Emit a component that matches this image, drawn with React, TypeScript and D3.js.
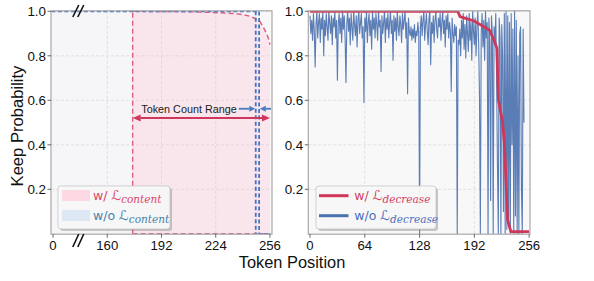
import React from 'react';
import * as d3 from 'd3';

const W = 594;
const H = 281;

const yTicks = [0.2, 0.4, 0.6, 0.8, 1.0];
const leftTickVals = [128, 160, 192, 224, 256];
const leftTickLabels = ['0', '160', '192', '224', '256'];
const rightTicks = [0, 64, 128, 192, 256];

// w/ L_content (pink region)
const withContentX = [175, 200, 215, 225, 235, 240, 244, 248, 250, 252, 254, 255, 256];
const withContentY = [1.0, 0.999, 0.997, 0.994, 0.99, 0.985, 0.978, 0.965, 0.955, 0.93, 0.9, 0.88, 0.85];

// w/o L_content (blue region)
const woContentX = [127, 249.6, 249.6, 256.6];
const woContentY = [1.0, 1.0, 0.0, 0.0];
const woContentDropX = 247.6;

// arrows (token positions)
const rangeArrow = { from: 175, to: 256, y: 0.52 };
const blueArrowL = { from: 237.6, to: 247.3, y: 0.562 };
const blueArrowR = { from: 256.6, to: 250.0, y: 0.562 };

// w/ L_decrease (red line)
const decreaseX = [0, 172.6, 175.3, 192, 209.5, 214, 218.4, 220.1, 225, 227, 229, 230.8, 234.7, 256];
const decreaseY = [1.0, 1.0, 0.976, 0.956, 0.916, 0.879, 0.834, 0.6, 0.5, 0.41, 0.24, 0.063, 0.01, 0.01];

// w/o L_decrease (blue noisy line), token 0..250
const noDecrease = [
  0.98, 0.90, 0.96, 0.87, 0.99, 0.91, 0.75, 0.94, 1.00, 0.88,
  0.95, 0.99, 0.86, 0.97, 0.92, 1.00, 0.80, 0.96, 0.89, 0.99,
  0.93, 0.87, 1.00, 0.95, 0.90, 0.98, 0.85, 0.97, 0.93, 1.00,
  0.88, 0.96, 0.69, 0.94, 0.99, 0.90, 0.97, 0.86, 1.00, 0.92,
  0.98, 0.88, 0.68, 0.95, 1.00, 0.91, 0.97, 0.85, 0.99, 0.93,
  0.87, 1.00, 0.94, 0.89, 0.98, 0.84, 0.96, 1.00, 0.90, 0.95,
  0.99, 0.88, 0.93, 0.59, 0.97, 0.91, 1.00, 0.86, 0.95, 0.99,
  0.89, 0.96, 0.83, 1.00, 0.92, 0.97, 0.88, 0.99, 0.94, 0.87,
  1.00, 0.93, 0.96, 0.73, 0.98, 0.90, 0.95, 1.00, 0.86, 0.97,
  0.92, 0.99, 0.88, 0.95, 1.00, 0.90, 0.96, 0.78, 0.98, 0.91,
  0.97, 0.87, 1.00, 0.93, 0.89, 0.98, 0.94, 0.86, 0.99, 0.92,
  0.96, 1.00, 0.88, 0.95, 0.63, 0.97, 0.91, 0.89, 0.93, 0.87,
  0.92, 0.88, 0.94, 0.86, 0.91, 0.89, 0.95, 0.90, 0.00, 0.93,
  0.98, 0.89, 0.96, 1.00, 0.87, 0.94, 0.99, 0.91, 0.85, 0.97,
  1.00, 0.76, 0.95, 0.90, 0.98, 0.86, 0.96, 1.00, 0.92, 0.88,
  0.97, 0.93, 0.99, 0.87, 0.95, 1.00, 0.90, 0.96, 0.84, 0.98,
  0.92, 0.99, 0.88, 0.95, 0.91, 0.64, 0.97, 0.90, 0.86, 0.94,
  0.89, 0.93, 0.00, 0.87, 0.85, 0.92, 0.80, 0.96, 0.88, 0.99,
  0.83, 0.94, 0.79, 0.98, 0.90, 0.82, 0.99, 0.87, 0.95, 0.78,
  1.00, 0.91, 0.85, 0.97, 0.80, 0.93, 1.00, 0.86, 0.62, 0.00,
  0.90, 0.99, 0.84, 0.96, 0.78, 1.00, 0.88, 0.95, 0.00, 0.97,
  0.86, 0.15, 0.98, 0.90, 0.00, 0.93, 0.85, 0.99, 0.70, 0.30,
  0.00, 0.97, 0.88, 0.00, 0.94, 0.80, 0.10, 0.99, 0.00, 1.00,
  0.02, 0.98, 0.05, 0.95, 0.00, 0.99, 0.40, 0.92, 0.00, 1.00,
  0.08, 0.96, 0.00, 0.80, 0.00, 0.90, 0.93, 0.20, 0.00, 0.92, 0.50,
];

const SANS = '"Liberation Sans", Arial, Helvetica, sans-serif';
const LSANS = '"DejaVu Sans", "Liberation Sans", sans-serif';
const SERIF = '"DejaVu Serif", "Liberation Serif", serif';

const TOP = 10.8;
const BOT = 234.2;
const yS = d3.scaleLinear().domain([0, 1]).range([233.8, 11.3]);
const xL = d3.scaleLinear().domain([126.8, 257.2]).range([51, 272]);
const xR = d3.scaleLinear().domain([-2, 257]).range([308.3, 530]);

const PINK_LINE = '#e2607f';
const PINK_DARK = '#d1365c';
const BLUE_DASH = '#4472c4';
const BLUE_LINE = '#4c72b0';
const RED = '#cf3658';

function Arrow({ x1, x2, y, color, w = 2, head = 8, hw = 3.5 }: any) {
  const dir = Math.sign(x2 - x1);
  const bx = x2 - dir * head;
  return (
    <g>
      <line x1={x1} x2={bx} y1={y} y2={y} stroke={color} strokeWidth={w} />
      <polygon points={`${x2},${y} ${bx},${y - hw} ${bx},${y + hw}`} fill={color} />
    </g>
  );
}

function LegendLabel({ x, y, pre, sub, color }: any) {
  return (
    <text x={x} y={y} fill={color} fontFamily={LSANS} fontSize={12.5}>
      <tspan>{pre}</tspan>
      <tspan fontFamily={LSANS} fontSize={13.5}>{'\u2112'}</tspan>
      <tspan fontFamily={SERIF} fontStyle="italic" fontSize={10.5} dy={3}>{sub}</tspan>
    </text>
  );
}

export default function App() {
  const line = d3.line<[number, number]>();

  const pinkCurve = line(withContentX.map((x, i) => [xL(x), yS(withContentY[i])]))!;
  const pinkFill =
    `M${xL(withContentX[0])},${yS(0)} ` +
    withContentX.map((x, i) => `L${xL(x)},${yS(withContentY[i])}`).join(' ') +
    ` L${xL(withContentX[withContentX.length - 1])},${yS(0)} Z`;
  const blueOutline = line(woContentX.map((x, i) => [xL(x), yS(woContentY[i])]))!;
  const blueFill = `M${xL(woContentX[0])},${yS(0)} L${xL(woContentX[0])},${yS(1)} L${xL(woContentX[1])},${yS(1)} L${xL(woContentX[1])},${yS(0)} Z`;

  const redPath = line(decreaseX.map((x, i) => [xR(x), yS(decreaseY[i])]))!;
  const bluePath = line(noDecrease.map((v, i) => [xR(i), yS(v)]))!;

  const gridStyle = { stroke: '#dadada', strokeWidth: 0.8, strokeDasharray: '3,2' };
  const frame = '#a8a8a8';

  const breakX = xL(142);

  return (
    <svg width={W} height={H} style={{ position: 'absolute', left: 0, top: 0, background: '#fff' }}>
      <defs>
        <clipPath id="clipL"><rect x={xL.range()[0]} y={TOP} width={xL.range()[1] - xL.range()[0]} height={BOT - TOP} /></clipPath>
        <clipPath id="clipR"><rect x={xR.range()[0]} y={TOP} width={xR.range()[1] - xR.range()[0]} height={BOT - TOP} /></clipPath>
      </defs>

      {/* ---------- LEFT PANEL ---------- */}
      <rect x={51} y={TOP} width={221} height={BOT - TOP} fill="#f8f8f9" />
      {yTicks.map((t) => (
        <line key={'gly' + t} x1={51} x2={272} y1={yS(t)} y2={yS(t)} {...gridStyle} />
      ))}
      {leftTickVals.slice(1, 4).map((t) => (
        <line key={'glx' + t} x1={xL(t)} x2={xL(t)} y1={TOP} y2={BOT} {...gridStyle} />
      ))}
      <g clipPath="url(#clipL)">
        <path d={blueFill} fill="#d6e4f4" opacity={0.06} />
        <path d={pinkFill} fill="#ffc0d0" opacity={0.3} />
        <path d={pinkCurve} fill="none" stroke={PINK_LINE} strokeWidth={1.5} strokeDasharray="5,3" />
        <line x1={xL(withContentX[0])} x2={xL(withContentX[0])} y1={yS(0)} y2={yS(1)} stroke={PINK_LINE} strokeWidth={1.5} strokeDasharray="5,3" />
        <line x1={xL(withContentX[0])} x2={xL(withContentX[withContentX.length - 1])} y1={yS(0)} y2={yS(0)} stroke={PINK_LINE} strokeWidth={1.5} strokeDasharray="5,3" />
        <path d={blueOutline} fill="none" stroke={BLUE_DASH} strokeWidth={1.8} strokeDasharray="4,2.5" />
        <line x1={xL(woContentDropX)} x2={xL(woContentDropX)} y1={yS(1)} y2={yS(0)} stroke={BLUE_DASH} strokeWidth={1.8} strokeDasharray="4,2.5" />
      </g>

      {/* Token Count Range annotation */}
      <text x={189} y={113} textAnchor="middle" fontFamily={SANS} fontSize={10.8} fill="#222">Token Count Range</text>
      <Arrow x1={xL(rangeArrow.to) - 8} x2={xL(rangeArrow.from)} y={yS(rangeArrow.y)} color={PINK_DARK} />
      <Arrow x1={xL(rangeArrow.from) + 8} x2={xL(rangeArrow.to)} y={yS(rangeArrow.y)} color={PINK_DARK} />
      <Arrow x1={xL(blueArrowL.from)} x2={xL(blueArrowL.to)} y={yS(blueArrowL.y)} color="#4a7cc0" w={1.8} head={6} hw={3} />
      <Arrow x1={xL(blueArrowR.from)} x2={xL(blueArrowR.to)} y={yS(blueArrowR.y)} color="#4a7cc0" w={1.8} head={6} hw={3} />

      {/* legend left */}
      <rect x={60} y={188} width={112} height={43} rx={3} fill="#888" opacity={0.45} />
      <rect x={58} y={186} width={112} height={43} rx={3} fill="#fafafa" fillOpacity={0.94} stroke="#c4c4c4" strokeWidth={0.8} />
      <rect x={62} y={190} width={28} height={11} fill="#fdd9e3" />
      <rect x={62} y={210} width={28} height={11} fill="#dde8f4" />
      <LegendLabel x={93} y={200} pre="w/ " sub="content" color="#d9456b" />
      <LegendLabel x={93} y={220} pre="w/o " sub="content" color="#4283ab" />

      <rect x={51} y={TOP} width={221} height={BOT - TOP} fill="none" stroke={frame} strokeWidth={1.2} />

      {/* break marks */}
      {[0, 5].map((o) => (
        <g key={'bk' + o}>
          <line x1={breakX - 4 + o} x2={breakX + 2 + o} y1={17} y2={5} stroke="#111" strokeWidth={1.6} />
          <line x1={breakX - 4 + o} x2={breakX + 2 + o} y1={247} y2={234} stroke="#111" strokeWidth={1.6} />
        </g>
      ))}

      {/* left axes ticks */}
      {yTicks.map((t) => (
        <g key={'lyt' + t}>
          <line x1={47.5} x2={51} y1={yS(t)} y2={yS(t)} stroke="#444" strokeWidth={0.8} />
          <text x={46} y={yS(t) + 4.8} textAnchor="end" fontFamily={SANS} fontSize={13.4} fill="#111">{t.toFixed(1)}</text>
        </g>
      ))}
      {leftTickVals.map((t, i) => (
        <g key={'lxt' + t}>
          <line x1={xL(t)} x2={xL(t)} y1={BOT} y2={BOT + 3.5} stroke="#444" strokeWidth={0.8} />
          <text x={xL(t)} y={249.8} textAnchor="middle" fontFamily={SANS} fontSize={13.2} fill="#111">{leftTickLabels[i]}</text>
        </g>
      ))}

      {/* ---------- RIGHT PANEL ---------- */}
      <rect x={308.3} y={TOP} width={530 - 308.3} height={BOT - TOP} fill="#f8f8f9" />
      {yTicks.map((t) => (
        <line key={'gry' + t} x1={308.3} x2={530} y1={yS(t)} y2={yS(t)} {...gridStyle} />
      ))}
      {rightTicks.slice(1, 4).map((t) => (
        <line key={'grx' + t} x1={xR(t)} x2={xR(t)} y1={TOP} y2={BOT} {...gridStyle} />
      ))}
      <g clipPath="url(#clipR)">
        <path d={bluePath} fill="none" stroke={BLUE_LINE} strokeWidth={1.1} strokeOpacity={0.92} strokeLinejoin="round" />
        <path d={redPath} fill="none" stroke={RED} strokeWidth={2.8} strokeLinejoin="round" />
      </g>

      {/* legend right */}
      <rect x={318} y={188} width={120} height={43} rx={3} fill="#888" opacity={0.45} />
      <rect x={316} y={186} width={120} height={43} rx={3} fill="#fafafa" fillOpacity={0.94} stroke="#c4c4c4" strokeWidth={0.8} />
      <line x1={319} x2={348.5} y1={195.7} y2={195.7} stroke={RED} strokeWidth={3} />
      <line x1={319} x2={348.5} y1={215.7} y2={215.7} stroke={BLUE_LINE} strokeWidth={3} />
      <LegendLabel x={354.3} y={200} pre="w/ " sub="decrease" color="#d43f63" />
      <LegendLabel x={354.3} y={220} pre="w/o " sub="decrease" color="#4a6fc0" />

      <rect x={308.3} y={TOP} width={530 - 308.3} height={BOT - TOP} fill="none" stroke={frame} strokeWidth={1.2} />

      {yTicks.map((t) => (
        <g key={'ryt' + t}>
          <line x1={304.8} x2={308.3} y1={yS(t)} y2={yS(t)} stroke="#444" strokeWidth={0.8} />
          <text x={303.3} y={yS(t) + 4.8} textAnchor="end" fontFamily={SANS} fontSize={13.4} fill="#111">{t.toFixed(1)}</text>
        </g>
      ))}
      {rightTicks.map((t) => (
        <g key={'rxt' + t}>
          <line x1={xR(t)} x2={xR(t)} y1={BOT} y2={BOT + 3.5} stroke="#444" strokeWidth={0.8} />
          <text x={xR(t)} y={249.8} textAnchor="middle" fontFamily={SANS} fontSize={13.2} fill="#111">{t}</text>
        </g>
      ))}

      {/* axis labels */}
      <text x={292} y={268.2} textAnchor="middle" fontFamily={SANS} fontSize={16.4} fill="#111">Token Position</text>
      <text transform="translate(22.5,126) rotate(-90)" textAnchor="middle" fontFamily={SANS} fontSize={16.6} fill="#111">Keep Probability</text>
    </svg>
  );
}
